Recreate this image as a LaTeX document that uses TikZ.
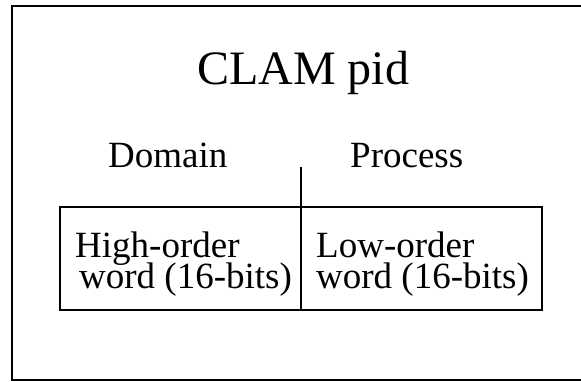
\documentclass[tikz,border=0pt]{standalone}
\usepackage{fontspec}
\setmainfont{Liberation Serif}
\begin{document}
\begin{tikzpicture}[x=1pt,y=-1pt,
  frame/.style={line width=2.8pt,line cap=rect},
  cell/.style={draw,line width=2.6pt,outer sep=0pt,minimum width=241pt,minimum height=103pt,inner sep=0pt,anchor=north west},
  lbl/.style={inner sep=0pt,anchor=base west,font=\fontsize{37}{34}\selectfont},
  cellt/.style={inner sep=0pt,anchor=base west,align=left,font=\fontsize{37}{34}\selectfont}]
\useasboundingbox (0,0) rectangle (581,382);
% outer frame, open on the right
\draw[frame] (581,6) -- (12,6) -- (12,380) -- (581,380);
% title and field labels
\node[lbl,font=\fontsize{48}{50}\selectfont] (title) at (197,85) {CLAM pid};
\node[lbl] (dom) at (108,168) {Domain};
\node[lbl] (proc) at (350,168) {Process};
% the two 16-bit halves
\node[cell] (hi) at (60,207) {};
\node[cell] (lo) at (301,207) {};
\node[cellt] (hit) at (75,288) {High-order\\[-3pt]\hspace*{4pt}word (16-bits)};
\node[cellt] (lot) at (316,288) {Low-order\\[-3pt]word (16-bits)};
% divider tick between the labels
\coordinate (tick) at (301,167);
\draw[line width=2.8pt] (hi.north east) -- (tick);
\end{tikzpicture}
\end{document}
